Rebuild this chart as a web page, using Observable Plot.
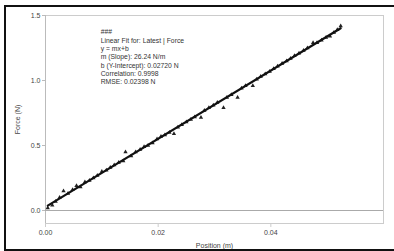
<!DOCTYPE html>
<html>
<head>
<meta charset="utf-8">
<script src="https://cdn.jsdelivr.net/npm/d3@7"></script>
<script src="https://cdn.jsdelivr.net/npm/@observablehq/plot@0.6"></script>
<style>
  html, body { margin: 0; padding: 0; background: #fff; }
  #wrap { position: relative; width: 394px; height: 251px; overflow: hidden; }
  #border { position: absolute; left: 4px; top: 5px; width: 400px; height: 242px;
            border-left: 2px solid #111; border-top: 2px solid #111; border-bottom: 2px solid #111; }
  svg { font-family: "Liberation Sans", Arial, sans-serif; }
</style>
</head>
<body>
<div id="wrap"><div id="border"></div></div>
<script>
// Measured samples: Position (m) and Force (N)
const position = [0.0004,0.0012,0.0018,0.0025,0.0032,0.0040,0.0048,0.0055,0.0062,0.0070,
  0.0078,0.0085,0.0092,0.0100,0.0108,0.0115,0.0122,0.0130,0.0138,0.0142,0.0152,0.0160,
  0.0168,0.0175,0.0182,0.0190,0.0198,0.0205,0.0212,0.0220,0.0228,0.0235,0.0242,0.0250,
  0.0258,0.0265,0.0276,0.0282,0.0290,0.0298,0.0305,0.0316,0.0322,0.0330,0.0341,0.0348,
  0.0355,0.0368,0.0375,0.0382,0.0390,0.0398,0.0405,0.0412,0.0420,0.0428,0.0435,0.0442,
  0.0450,0.0458,0.0465,0.0475,0.0482,0.0490,0.0498,0.0505,0.0512,0.0518,0.0524];
const force = [0.02,0.04,0.07,0.10,0.15,0.13,0.16,0.19,0.18,0.22,
  0.23,0.25,0.27,0.30,0.31,0.33,0.35,0.37,0.38,0.45,0.42,0.45,
  0.47,0.49,0.50,0.52,0.55,0.57,0.58,0.60,0.59,0.64,0.66,0.68,
  0.70,0.72,0.715,0.77,0.79,0.81,0.83,0.79,0.87,0.89,0.87,0.94,
  0.96,0.96,1.01,1.03,1.05,1.07,1.09,1.11,1.13,1.15,1.17,1.19,
  1.21,1.23,1.25,1.29,1.29,1.31,1.33,1.34,1.37,1.39,1.42];
// Linear fit reported by the software
const slope = 26.24;
const intercept = 0.02720;
const annotationLines = [
  "###",
  "Linear Fit for: Latest | Force",
  "y = mx+b",
  "m (Slope): 26.24 N/m",
  "b (Y-Intercept): 0.02720 N",
  "Correlation: 0.9998",
  "RMSE: 0.02398 N"
];
const xTicks = [0, 0.02, 0.04];
const yTicks = [0, 0.5, 1.0, 1.5];
const annotationAt = {x: 0.0098, y: 1.40};

const pts = position.map((x, i) => ({x, y: force[i]}));
const x0 = d3.min(position), x1 = d3.max(position);
const fit = [x0, x1].map(x => ({x, y: slope * x + intercept}));

const chart = Plot.plot({
  width: 394, height: 251,
  marginLeft: 45, marginRight: 11, marginTop: 15, marginBottom: 28,
  style: {fontSize: "7px", color: "#444", background: "transparent", fontFamily: "Liberation Sans, Arial, sans-serif"},
  x: {domain: [0, 0.06]},
  y: {domain: [-0.1, 1.5]},
  marks: [
    Plot.frame({stroke: "#ccc"}),
    Plot.ruleX([0], {stroke: "#bbb"}),
    Plot.ruleY([0], {stroke: "#aaa", strokeWidth: 1.2}),
    Plot.axisX({ticks: xTicks, tickFormat: d3.format(".2f"), stroke: "#ccc", fill: "#444", tickSize: 4, tickPadding: 3,
      label: "Position (m)", labelAnchor: "center", labelOffset: 24, labelArrow: "none"}),
    Plot.axisY({ticks: yTicks, tickFormat: d3.format(".1f"), stroke: "#bbb", fill: "#444", tickSize: 3, tickPadding: 2,
      label: "Force (N)", labelAnchor: "center", labelOffset: 30, labelArrow: "none"}),
    Plot.dot(pts, {x: "x", y: "y", r: 1.6, symbol: "triangle", fill: "#222", stroke: "none"}),
    Plot.line(fit, {x: "x", y: "y", stroke: "#111", strokeWidth: 2.2}),
    Plot.text([annotationLines.join("\n")], {x: () => annotationAt.x, y: () => annotationAt.y,
      textAnchor: "start", lineAnchor: "top", lineHeight: 1.22, fontSize: 6.8, fill: "#333"})
  ]
});
document.getElementById("wrap").prepend(chart);
</script>
</body>
</html>
